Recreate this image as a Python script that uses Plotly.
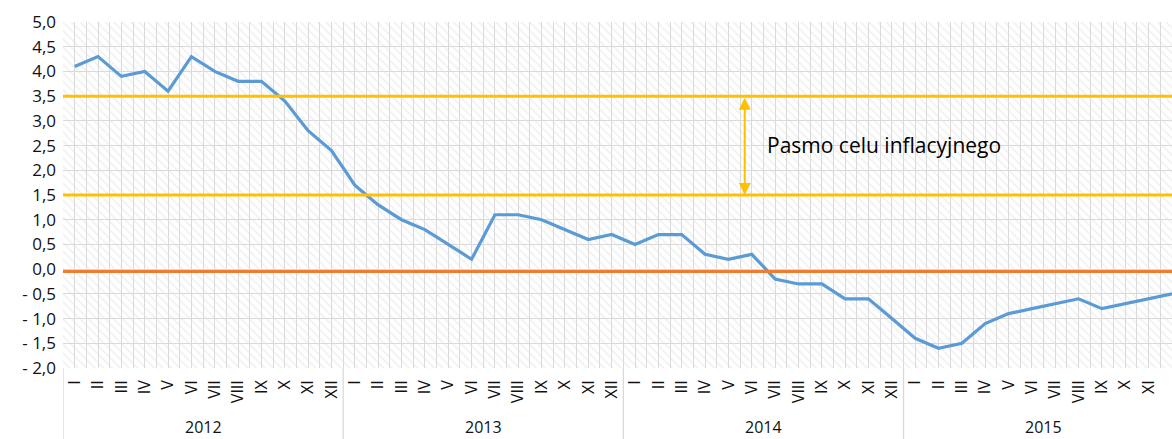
import plotly.graph_objects as go

# ---- data ----
years = ["2012", "2013", "2014", "2015"]
months = ["I", "II", "III", "IV", "V", "VI", "VII", "VIII", "IX", "X", "XI", "XII"]
cpi_2012 = [4.1, 4.3, 3.9, 4.0, 3.6, 4.3, 4.0, 3.8, 3.8, 3.4, 2.8, 2.4]
cpi_2013 = [1.7, 1.3, 1.0, 0.8, 0.5, 0.2, 1.1, 1.1, 1.0, 0.8, 0.6, 0.7]
cpi_2014 = [0.5, 0.7, 0.7, 0.3, 0.2, 0.3, -0.2, -0.3, -0.3, -0.6, -0.6, -1.0]
cpi_2015 = [-1.4, -1.6, -1.5, -1.1, -0.9, -0.8, -0.7, -0.6, -0.8, -0.7, -0.6, -0.5]
band_upper = 3.5
band_lower = 1.5
zero_line = -0.05
band_label = "Pasmo celu inflacyjnego"
y_ticks = [5.0, 4.5, 4.0, 3.5, 3.0, 2.5, 2.0, 1.5, 1.0, 0.5, 0.0,
           -0.5, -1.0, -1.5, -2.0]

# ---- derived ----
values = cpi_2012 + cpi_2013 + cpi_2014 + cpi_2015
n = len(values)
xs = list(range(n))
tick_text = months * len(years)


def fmt(v):
    s = f"{abs(v):.1f}".replace(".", ",")
    return ("- " + s) if v < 0 else s


W, H = 1172, 439
ML, MR, MT, MB = 63, 0, 22, 71
plot_h = H - MT - MB
x_range = [-0.5, n - 1]
y_range = [-2.0, 5.0]

FONT = "Open Sans"
TXT = "#111111"
GRID = "#d9d9d9"

fig = go.Figure()

# hatched plot-area background
fig.add_trace(go.Scatter(
    x=[x_range[0], n - 0.5, n - 0.5, x_range[0], x_range[0]],
    y=[y_range[0], y_range[0], y_range[1], y_range[1], y_range[0]],
    fill="toself", mode="lines", line=dict(width=0),
    fillcolor="rgba(0,0,0,0)",
    fillpattern=dict(shape="\\", fgcolor="#e0e0e0", bgcolor="rgba(0,0,0,0)",
                     size=6, solidity=0.25),
    hoverinfo="skip", showlegend=False,
))

# reference lines (full width)
for yv, col in [(band_upper, "#FFC000"), (band_lower, "#FFC000"), (zero_line, "#ED7D31")]:
    fig.add_shape(type="line", xref="paper", yref="y", x0=0, x1=1, y0=yv, y1=yv,
                  line=dict(color=col, width=3), layer="above")

fig.add_trace(go.Scatter(
    x=xs, y=values, mode="lines",
    line=dict(color="#5B9BD5", width=3.2),
    showlegend=False, hoverinfo="skip",
))

# double-headed arrow between band lines
arrow_x = 28.7
fig.add_annotation(x=arrow_x, y=band_lower, ax=arrow_x, ay=band_upper,
                   xref="x", yref="y", axref="x", ayref="y",
                   text="", showarrow=True, arrowside="end+start",
                   arrowhead=2, startarrowhead=2, arrowsize=1.2, startarrowsize=1.2,
                   arrowwidth=2, arrowcolor="#FFC000")
fig.add_annotation(x=29.55, y=(band_upper + band_lower) / 2 + 0.02, xref="x", yref="y",
                   text=band_label, showarrow=False, xanchor="left", yanchor="middle",
                   font=dict(family=FONT, size=21, color="#000000"))

# year group labels and separators
for k, yr in enumerate(years):
    fig.add_annotation(x=k * 12 + 5.5, y=-(427 - (H - MB)) / plot_h,
                       xref="x", yref="paper", text=yr, showarrow=False,
                       yanchor="middle", font=dict(family=FONT, size=16, color=TXT))
    fig.add_shape(type="line", xref="x", yref="paper",
                  x0=k * 12 - 0.5, x1=k * 12 - 0.5, y0=0, y1=-MB / plot_h,
                  line=dict(color=GRID, width=1.3))

fig.update_layout(
    width=W, height=H,
    margin=dict(l=ML, r=MR, t=MT, b=MB, pad=0, autoexpand=False),
    paper_bgcolor="white", plot_bgcolor="white",
    font=dict(family=FONT, color=TXT),
    showlegend=False,
    xaxis=dict(
        range=x_range, tickmode="array", tickvals=xs, ticktext=tick_text,
        tickangle=-90, ticks="", ticklabelstandoff=8, automargin=False,
        tickfont=dict(family=FONT, size=16, color=TXT),
        showgrid=True, gridcolor=GRID, gridwidth=1,
        minor=dict(tickmode="array", tickvals=[i - 0.5 for i in range(n + 1)],
                   showgrid=True, gridcolor=GRID, gridwidth=1),
        zeroline=False, showline=False, fixedrange=True,
    ),
    yaxis=dict(
        range=y_range, tickmode="array", tickvals=y_ticks,
        ticktext=[fmt(v) for v in y_ticks], automargin=False,
        tickfont=dict(family=FONT, size=17, color=TXT),
        showgrid=True, gridcolor=GRID, gridwidth=1,
        zeroline=False, showline=False, ticks="", ticklabelstandoff=6,
        fixedrange=True,
    ),
)

fig.write_html(
    "out.html",
    config={"displayModeBar": False},
    post_script="document.body.style.margin='0';document.body.style.overflow='hidden';",
)
